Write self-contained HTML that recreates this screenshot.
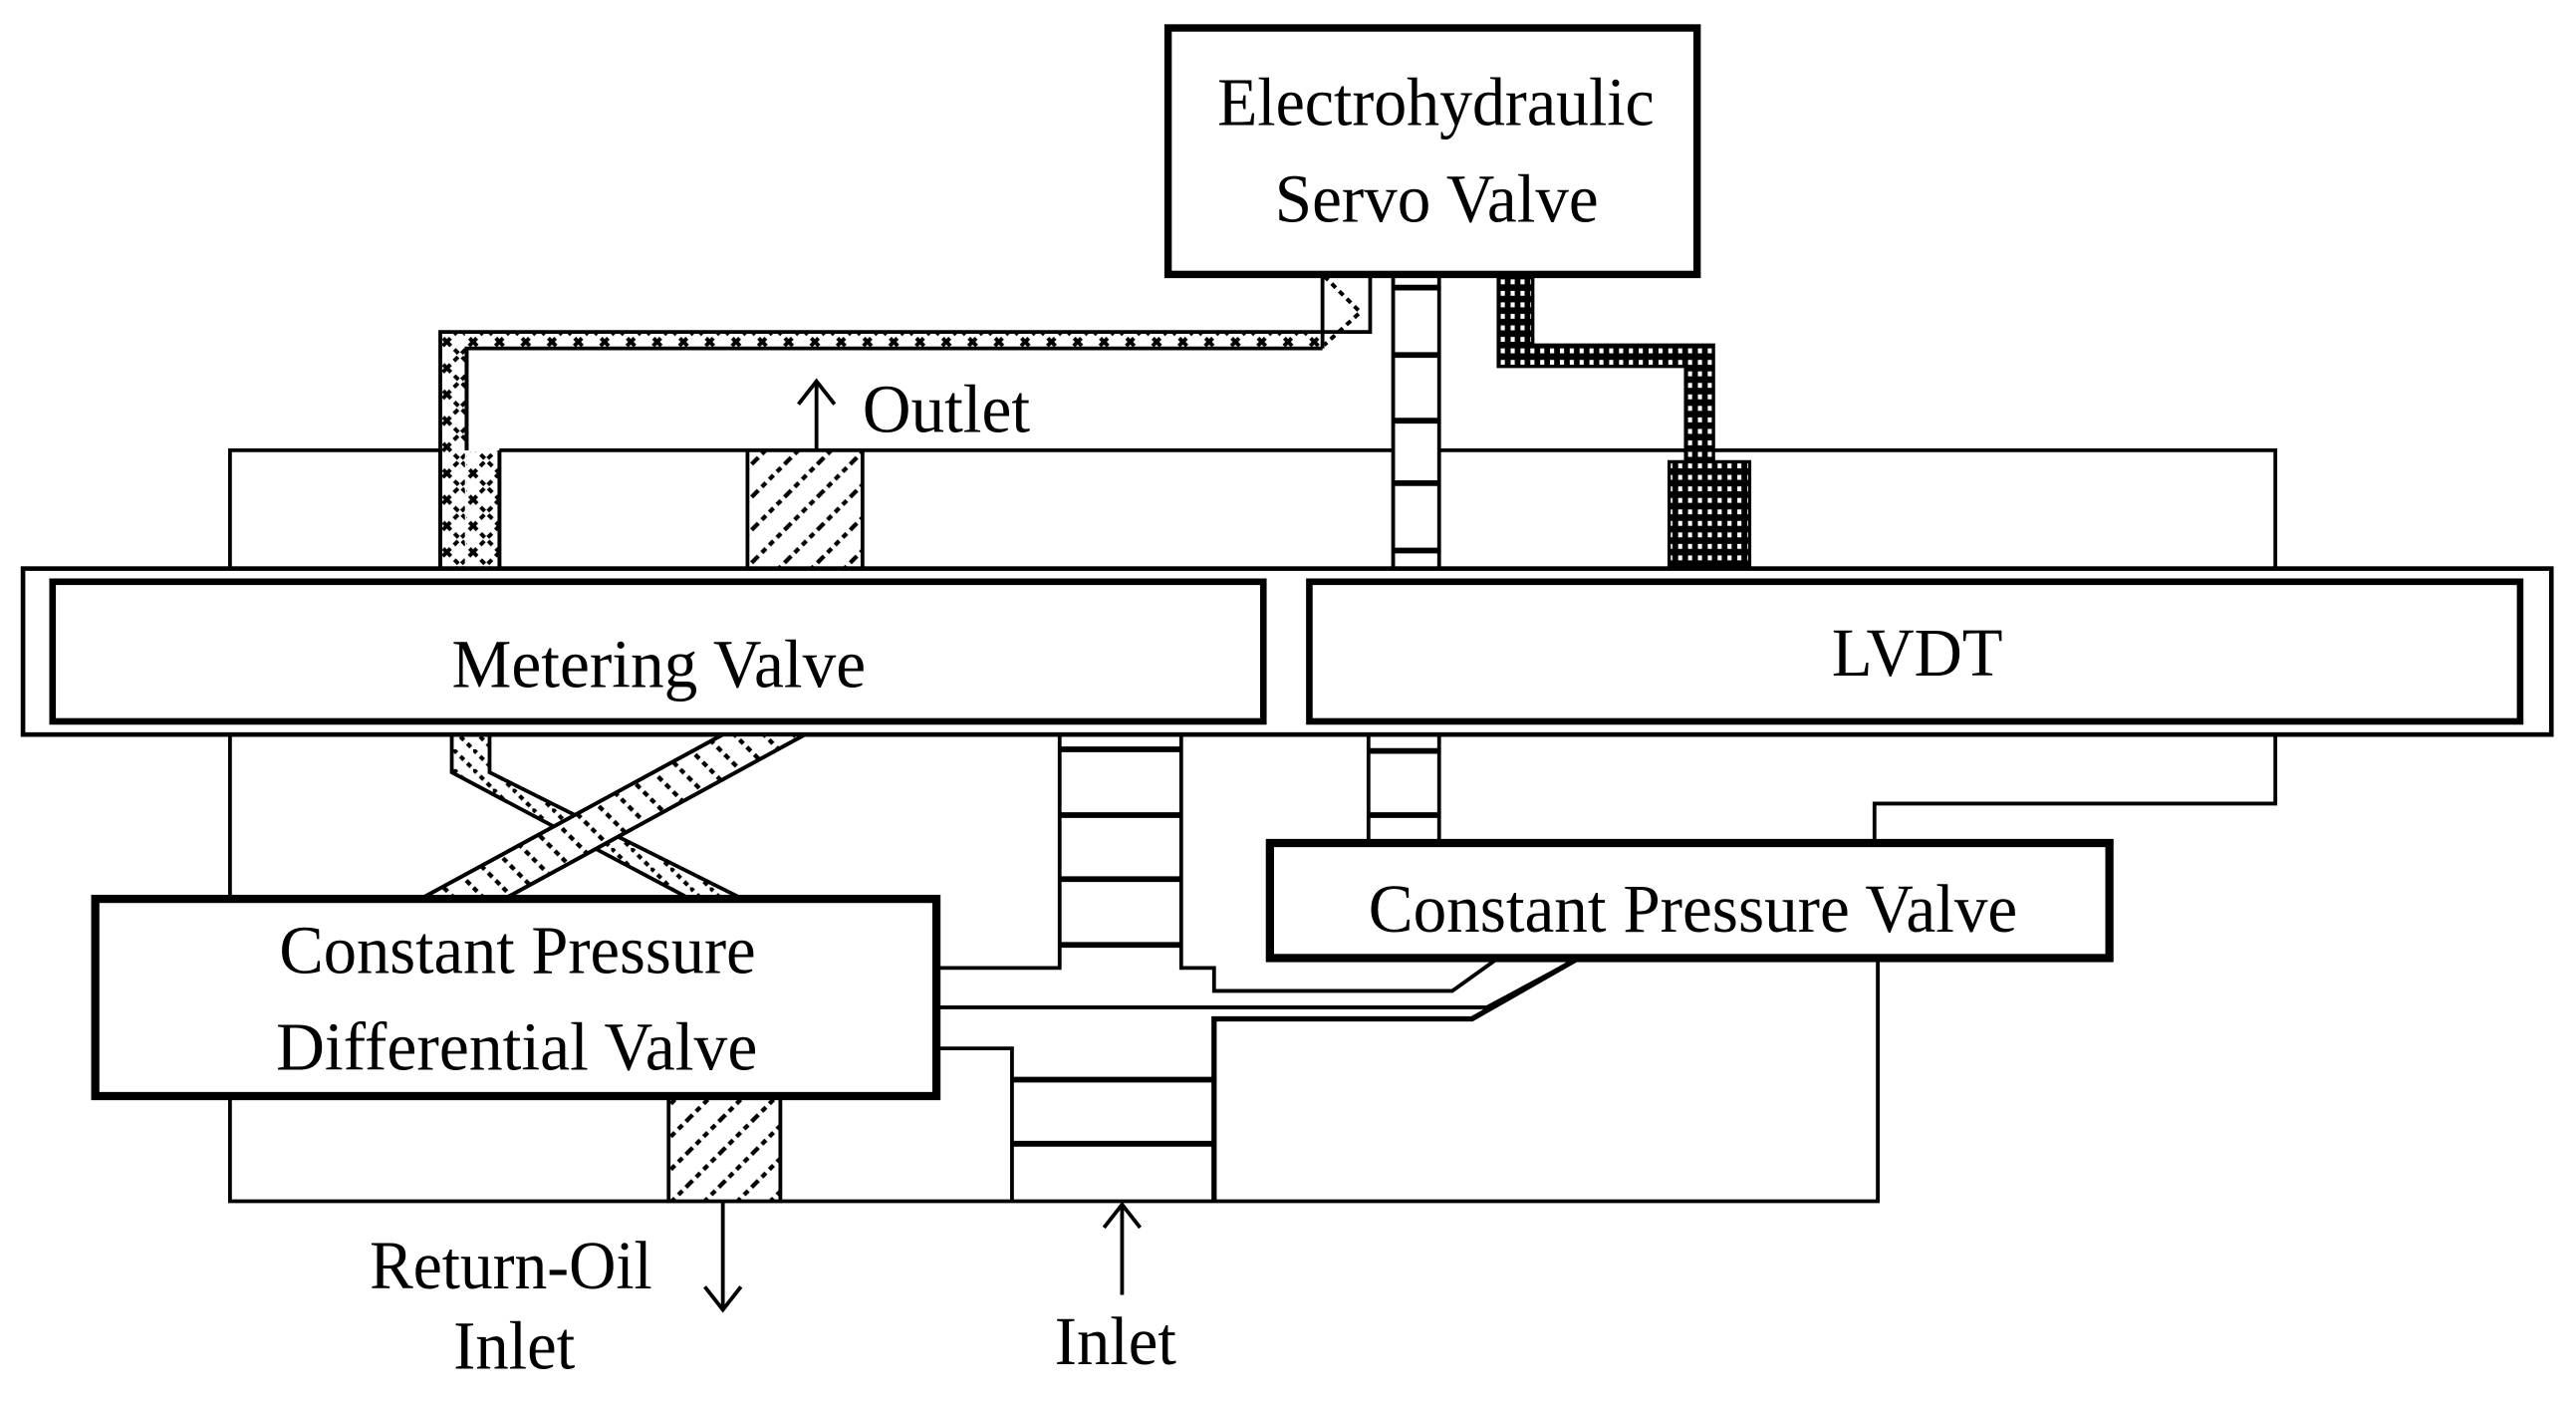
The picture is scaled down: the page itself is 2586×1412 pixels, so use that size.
<!DOCTYPE html>
<html><head><meta charset="utf-8"><style>
html,body{margin:0;padding:0;background:#fff;}
svg{display:block;}
text{font-family:"Liberation Serif",serif;font-size:42px;fill:#000;}
</style></head><body>
<svg width="2586" height="1412" viewBox="0 0 1568 856.2" preserveAspectRatio="none" xmlns="http://www.w3.org/2000/svg">
<defs>
<pattern id="cx" width="16" height="16" patternUnits="userSpaceOnUse">
<path d="M0 0L16 16M16 0L0 16" stroke="#000" stroke-width="2.4" stroke-dasharray="3.5 3"/>
</pattern>
<pattern id="sl" width="18" height="18" patternUnits="userSpaceOnUse">
<path d="M0 0L18 18M-9 9L9 27M9 -9L27 9" stroke="#000" stroke-width="2.6" stroke-dasharray="3.5 3"/>
</pattern>
<pattern id="bs" width="20" height="20" patternUnits="userSpaceOnUse">
<path d="M20 0L0 20M10 -10L-10 10M30 10L10 30" stroke="#000" stroke-width="2.6" stroke-dasharray="3.5 3"/>
</pattern>
<pattern id="dt" width="6" height="7" patternUnits="userSpaceOnUse">
<rect width="6" height="7" fill="#000"/><rect x="1.5" y="2" width="2.5" height="3" fill="#fff"/>
</pattern>
<pattern id="dg" width="12" height="12" patternUnits="userSpaceOnUse">
<path d="M0 0L12 12" stroke="#000" stroke-width="2.5" stroke-dasharray="3 3"/>
</pattern>
</defs>
<g fill="none" stroke="#000" stroke-width="2.3">
<path d="M140 346V274H268M304 274H455M525 274H848M876 274H1026M1043 274H1385V346"/>
<path d="M284 274V212H805"/>
<path d="M268 346V202H834V167M284 212V274M304 274V346M805 212V167"/>
</g>
<rect x="269" y="203" width="14" height="143" fill="url(#cx)"/>
<rect x="284" y="275" width="19" height="71" fill="url(#cx)"/>
<rect x="284" y="203" width="520" height="8" fill="url(#cx)"/>
<path d="M806 168L828 190L806 210" fill="none" stroke="#000" stroke-width="2.4" stroke-dasharray="3.5 3"/>
<path d="M268 346V274M304 274V346M284 274V212" stroke="#000" stroke-width="2.3"/>
<rect x="455" y="274" width="70" height="72" fill="url(#bs)" stroke="#000" stroke-width="2.3"/>
<path d="M497 274V233M486 246L497 232L508 246" fill="none" stroke="#000" stroke-width="2.3"/>
<text x="525" y="263" textLength="102" lengthAdjust="spacingAndGlyphs">Outlet</text>
<g stroke="#000" stroke-width="2.3" fill="none">
<path d="M848 167V346M876 167V346"/>
<path d="M848 175H876M848 216H876M848 256H876M848 294H876M848 335H876" stroke-width="3.5"/>
</g>
<path d="M912 167V223H1026V281H1016V346H1065V281H1043V210H933V167Z" fill="url(#dt)" stroke="#000" stroke-width="2"/>
<rect x="711" y="17" width="322" height="150" fill="#fff" stroke="#000" stroke-width="4.5"/>
<text x="741" y="76" textLength="266" lengthAdjust="spacingAndGlyphs">Electrohydraulic</text>
<text x="776" y="135" textLength="197" lengthAdjust="spacingAndGlyphs">Servo Valve</text>
<rect x="14" y="346" width="1539" height="101" fill="#fff" stroke="#000" stroke-width="2.8"/>
<rect x="32" y="354" width="737" height="85" fill="#fff" stroke="#000" stroke-width="4"/>
<rect x="797" y="354" width="737" height="85" fill="#fff" stroke="#000" stroke-width="4"/>
<text x="275" y="418" textLength="252" lengthAdjust="spacingAndGlyphs">Metering Valve</text>
<text x="1115" y="411" textLength="104" lengthAdjust="spacingAndGlyphs">LVDT</text>
<g fill="none" stroke="#000" stroke-width="2.3">
<path d="M140 447V547M140 667V731H407M475 731H1143V583"/>
<path d="M1385 447V489H1141V513"/>
</g>
<path d="M275 447V470L420 547H452L298 470V447Z" fill="url(#dg)" stroke="#000" stroke-width="2.3"/>
<path d="M440 447H490L307 547H256Z" fill="#fff" stroke="#000" stroke-width="2.3"/>
<path d="M440 447H490L307 547H256Z" fill="url(#sl)" stroke="#000" stroke-width="2.3"/>
<g fill="none" stroke="#000" stroke-width="2.3">
<path d="M570 589H645V447M719 447V589H739V603H884L912 583"/>
<path d="M645 456H719M645 496H719M645 535H719M645 575H719" stroke-width="3.5"/>
<path d="M570 613H905L961 583"/>
<path d="M739 731V620H896L961 583" stroke-width="3.2"/>
<path d="M570 638H616V731"/>
<path d="M616 657H739M616 696H739" stroke-width="3.5"/>
</g>
<g fill="none" stroke="#000" stroke-width="2.3">
<path d="M833 447V513M876 447V513"/>
<path d="M833 457H876M833 496H876" stroke-width="3.5"/>
</g>
<rect x="58" y="547" width="512" height="120" fill="#fff" stroke="#000" stroke-width="5"/>
<text x="170" y="592" textLength="290" lengthAdjust="spacingAndGlyphs">Constant Pressure</text>
<text x="168" y="651" textLength="293" lengthAdjust="spacingAndGlyphs">Differential Valve</text>
<rect x="773" y="513" width="511" height="70" fill="#fff" stroke="#000" stroke-width="5"/>
<text x="833" y="567" textLength="395" lengthAdjust="spacingAndGlyphs">Constant Pressure Valve</text>
<rect x="407" y="667" width="68" height="64" fill="url(#bs)" stroke="#000" stroke-width="2.3"/>
<g fill="none" stroke="#000" stroke-width="2.3">
<path d="M440 731V797M429 783L440 797L451 783"/>
<path d="M683 788V733M672 747L683 733L694 747"/>
</g>
<text x="225" y="784" textLength="172" lengthAdjust="spacingAndGlyphs">Return-Oil</text>
<text x="276" y="833" textLength="74" lengthAdjust="spacingAndGlyphs">Inlet</text>
<text x="642" y="830" textLength="74" lengthAdjust="spacingAndGlyphs">Inlet</text>
</svg>
</body></html>
